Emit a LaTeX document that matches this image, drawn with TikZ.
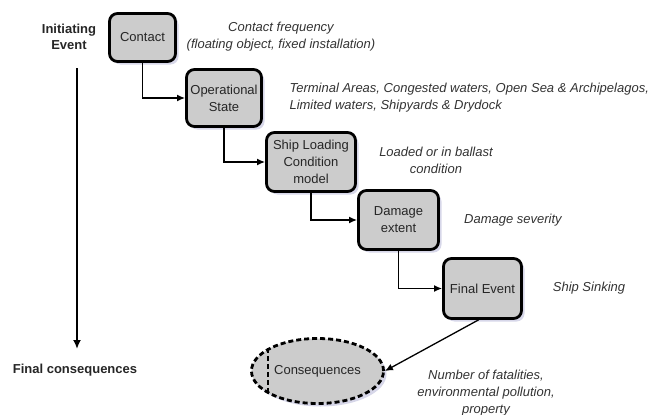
\documentclass[tikz,border=0pt]{standalone}
\usepackage{fontspec}
\setmainfont{Liberation Sans}
\usetikzlibrary{arrows.meta}
\usetikzlibrary{shadows}
\usetikzlibrary{shapes.geometric}

\begin{document}
\begin{tikzpicture}[x=1pt,y=-1pt,
    font=\fontsize{13}{17}\selectfont,
    stage/.style={draw=black,line width=2.8pt,rounded corners=8pt,fill=gray!40,align=center,text=black!85,
      drop shadow={shadow xshift=3pt,shadow yshift=-3pt,fill=blue!30!gray!40,opacity=0.6}},
    note/.style={font=\fontsize{13}{17}\selectfont\itshape,text=black!80,align=center},
    flow/.style={-{Latex[length=8pt,width=7pt]},line width=1.5pt}]
              \useasboundingbox (0,0) rectangle (667,415);

              % stages
              \node[stage,minimum width=66pt,minimum height=48pt] (contact) at (142.5,37.5) {Contact};
              \node[stage,minimum width=75pt,minimum height=57pt] (opstate) at (224,98) {Operational\\State};
              \node[stage,minimum width=89pt,minimum height=59pt] (loading) at (311,162) {Ship Loading\\Condition\\model};
              \node[stage,minimum width=80pt,minimum height=59pt] (damage) at (398.5,220) {Damage\\extent};
              \node[stage,minimum width=78pt,minimum height=60pt] (final) at (482.5,288.5) {Final Event};
              \node[stage,ellipse,rounded corners=0pt,dash pattern=on 5pt off 3pt,minimum width=116pt,minimum height=65pt] (conseq) at (317.5,371) {Consequences};
              \draw[line width=2.8pt,dash pattern=on 5pt off 3pt] (conseq.155) -- (conseq.205);

              % left axis
              \node[font=\fontsize{13}{16}\selectfont\bfseries,align=center,text=black!85] (init) at (69,37) {Initiating\\Event};
              \node[font=\fontsize{13}{16}\selectfont\bfseries,text=black!85] (finalc) at (75,370) {Final consequences};
              \coordinate (axtop) at (77,68);
              \coordinate (axbot) at (77,349);
              \draw[-{Latex[length=9pt,width=8pt]},line width=1.9pt] (axtop) -- (axbot);

              % notes
              \node[note] (freq) at (281,37) {Contact frequency\\(floating object, fixed installation)};
              \node[note,align=left,anchor=west] (areas) at (286,98) {Terminal Areas, Congested waters, Open Sea \& Archipelagos,\\Limited waters, Shipyards \& Drydock};
              \node[note] (ballast) at (436,160) {Loaded or in ballast\\condition};
              \node[note] (severity) at (513,220) {Damage severity};
              \node[note] (sinking) at (589,288) {Ship Sinking};
              \node[note] (fatal) at (486,393) {Number of fatalities,\\environmental pollution,\\property};

              % connectors
              \draw[flow] (contact.south) |- (opstate.west);
              \draw[flow] (opstate.south) |- (loading.west);
              \draw[flow] (loading.south) |- (damage.west);
              \draw[flow] (damage.south) |- (final.west);
              \draw[flow,line width=1.3pt] (final.south) ++(-4,0) -- (conseq.east);
            \end{tikzpicture}
\end{document}
